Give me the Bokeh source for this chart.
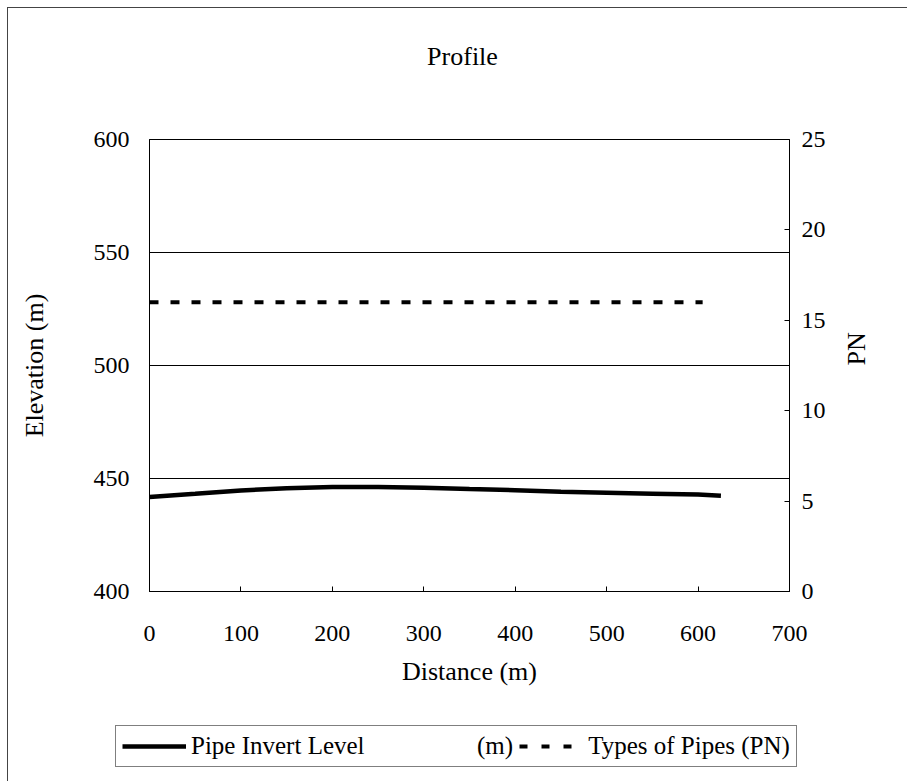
import math
from bokeh.plotting import figure
from bokeh.models import Range1d, LinearAxis, Legend, LegendItem, FixedTicker, Label
from bokeh.embed import file_html
from bokeh.resources import INLINE

# --- data ---
distance = [0, 50, 100, 150, 200, 250, 300, 350, 400, 450, 500, 550, 600, 625]
invert_level = [441.8, 443.2, 444.7, 445.7, 446.2, 446.2, 445.9, 445.3, 444.8, 444.1, 443.7, 443.3, 442.9, 442.4]
pn_distance = [0, 605]
pn_value = [16, 16]

x_ticks = [0, 100, 200, 300, 400, 500, 600, 700]
elev_ticks = [400, 450, 500, 550, 600]
pn_ticks = [0, 5, 10, 15, 20, 25]

title_text = "Profile"
series_labels = ["Pipe Invert Level" + "\u00a0" * 18 + "(m)", "Types of Pipes (PN)"]

FONT = "Liberation Serif"
TICK_FS = "24px"
LABEL_FS = "26px"

# ---------- title strip ----------
t = figure(width=900, height=92, output_backend="svg", toolbar_location=None,
           x_range=Range1d(0, 1), y_range=Range1d(0, 1),
           x_axis_location=None, y_axis_location=None,
           min_border_left=0, min_border_right=0, min_border_top=0, min_border_bottom=0,
           margin=(7, 0, 0, 7))
t.styles = {"border-left": "1px solid #444", "border-top": "1px solid #444"}
t.grid.grid_line_color = None
t.outline_line_color = None
t.background_fill_color = "white"
t.border_fill_color = "white"
t.add_layout(Label(x=454, y=44, x_units="screen", y_units="screen", text=title_text,
                   text_font=FONT, text_font_size=LABEL_FS, text_color="black",
                   text_align="center", text_baseline="middle"))

# ---------- main chart ----------
p = figure(width=900, height=622, output_backend="svg", toolbar_location=None,
           x_range=Range1d(0, 700), y_range=Range1d(400, 600),
           min_border_left=141, min_border_right=119, min_border_top=40, min_border_bottom=130,
           margin=(0, 0, 0, 7))
p.styles = {"border-left": "1px solid #444"}

p.extra_y_ranges = {"pn": Range1d(0, 25)}

p.outline_line_color = "black"
p.background_fill_color = "white"
p.border_fill_color = "white"

p.xgrid.grid_line_color = None
p.ygrid.grid_line_color = "black"
p.ygrid.grid_line_width = 1
p.ygrid.ticker = FixedTicker(ticks=elev_ticks)

def style_axis(ax, ticks):
    ax.ticker = FixedTicker(ticks=ticks)
    ax.axis_line_color = "black"
    ax.major_tick_line_color = "black"
    ax.major_tick_in = 5
    ax.major_tick_out = 0
    ax.minor_tick_line_color = None
    ax.major_label_text_font = FONT
    ax.major_label_text_font_size = TICK_FS
    ax.major_label_text_color = "black"
    ax.axis_label_text_font = FONT
    ax.axis_label_text_font_size = LABEL_FS
    ax.axis_label_text_font_style = "normal"
    ax.axis_label_text_color = "black"

xa = p.xaxis[0]
style_axis(xa, x_ticks)
xa.axis_label = "Distance (m)"
xa.major_label_standoff = 34
xa.axis_label_standoff = 13

ya = p.yaxis[0]
style_axis(ya, elev_ticks)
ya.axis_label = "Elevation (m)"
ya.major_label_standoff = 20
ya.axis_label_standoff = 42

ra = LinearAxis(y_range_name="pn", axis_label="PN")
style_axis(ra, pn_ticks)
ra.major_label_standoff = 12
ra.axis_label_standoff = 28
ra.axis_label_orientation = math.pi / 2
p.add_layout(ra, "right")

r1 = p.line(distance, invert_level, line_color="black", line_width=4.5)
r2 = p.line(pn_distance, pn_value, y_range_name="pn", line_color="black",
            line_width=4, line_dash="9 12")

# ---------- legend strip ----------
q = figure(width=900, height=60, output_backend="svg", toolbar_location=None,
           x_range=Range1d(0, 1), y_range=Range1d(0, 1),
           x_axis_location=None, y_axis_location=None,
           min_border_left=0, min_border_right=0, min_border_top=0, min_border_bottom=0,
           margin=(0, 0, 0, 7))
q.styles = {"border-left": "1px solid #444"}
q.grid.grid_line_color = None
q.outline_line_color = None
q.background_fill_color = "white"
q.border_fill_color = "white"

# same series, off-screen in this strip; only their legend glyphs show
l1 = q.line(distance, invert_level, line_color="black", line_width=4.5)
l2 = q.line(pn_distance, pn_value, line_color="black", line_width=4, line_dash="8 14")

legend = Legend(items=[
    LegendItem(label=series_labels[0], renderers=[l1]),
    LegendItem(label=series_labels[1], renderers=[l2]),
], orientation="horizontal", location=(107, 14))
legend.label_text_font = FONT
legend.label_text_font_size = "25px"
legend.label_text_color = "black"
legend.border_line_color = "black"
legend.border_line_width = 1
legend.glyph_width = 64
legend.label_standoff = 5
legend.spacing = 6
legend.padding = 6
legend.margin = 0
legend.background_fill_alpha = 1
q.add_layout(legend)

open("out.html", "w").write(file_html([t, p, q], INLINE))
